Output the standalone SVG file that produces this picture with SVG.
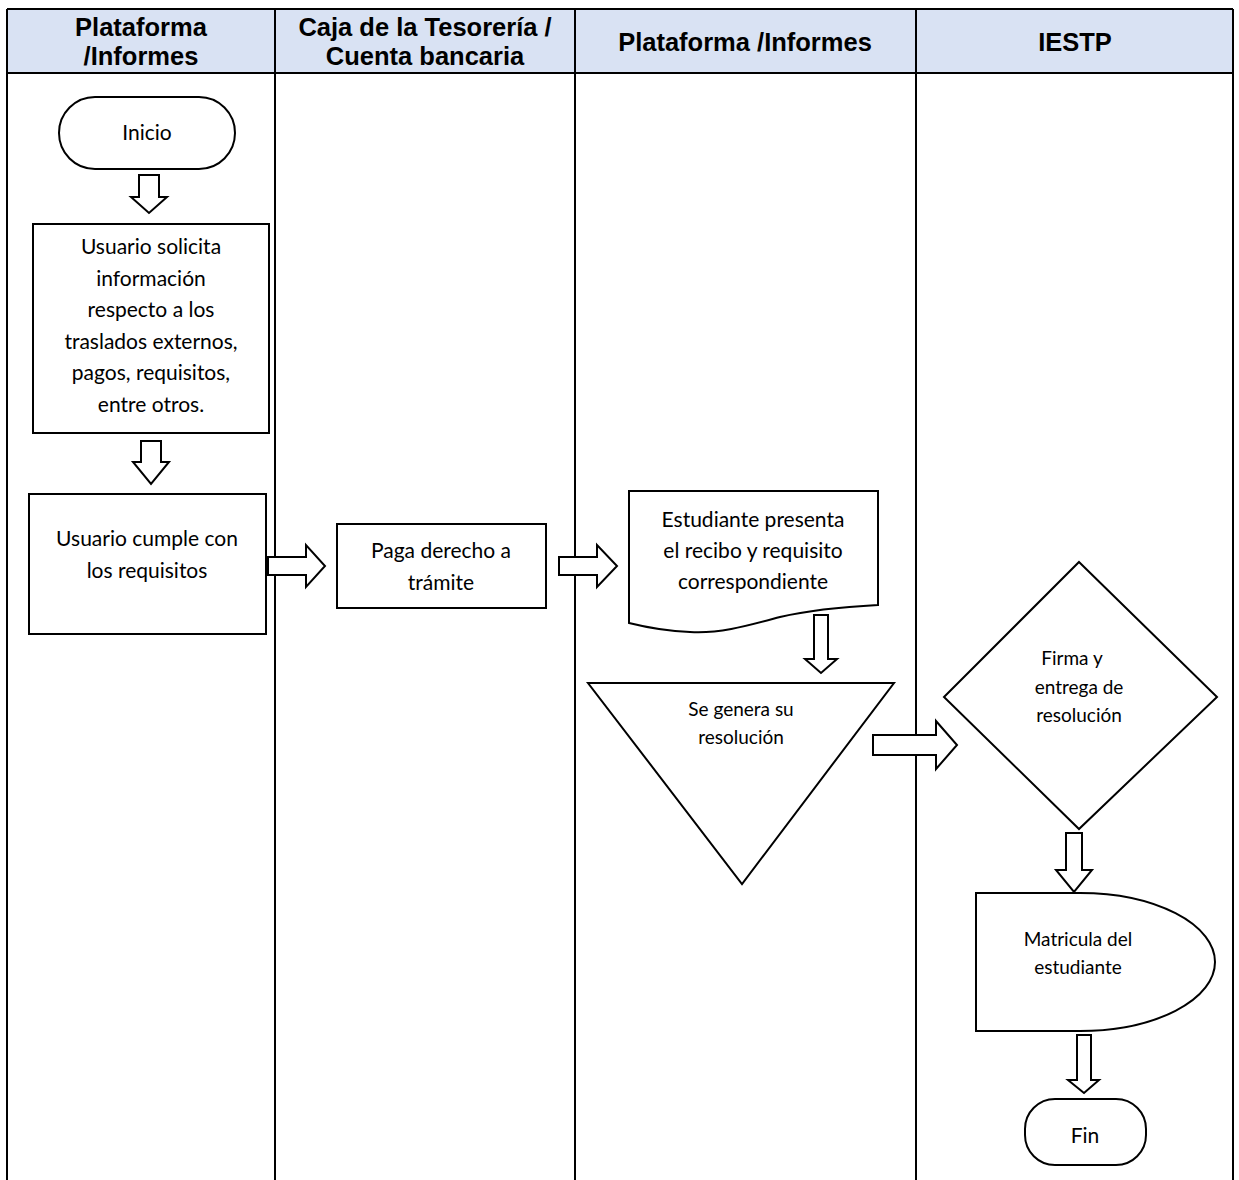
<svg xmlns="http://www.w3.org/2000/svg" width="1239" height="1180" viewBox="0 0 1239 1180">
  <style>
    .lane { stroke: #000; stroke-width: 2; fill: none; }
    .head { fill: #D9E2F3; stroke: none; }
    .hd { font-family: "Liberation Sans", Arial, sans-serif; font-weight: bold; font-size: 25.5px; fill: #000; text-anchor: middle; }
    .shape { fill: #fff; stroke: #000; stroke-width: 2; }
    .arrow { fill: #fff; stroke: #000; stroke-width: 2; stroke-linejoin: miter; }
    .t { font-family: Lato, "Open Sans", sans-serif; font-size: 21px; fill: #000; text-anchor: middle; }
    .ts { font-family: Lato, "Open Sans", sans-serif; font-size: 19px; fill: #000; text-anchor: middle; }
  </style>

  <!-- swimlane frame -->
  <g id="lanes">
    <rect class="head" x="7" y="9" width="1226" height="64"/>
    <line class="lane" x1="7" y1="9" x2="1233" y2="9"/>
    <line class="lane" x1="7" y1="73" x2="1233" y2="73"/>
    <line class="lane" x1="7" y1="9" x2="7" y2="1180"/>
    <line class="lane" x1="275" y1="9" x2="275" y2="1180"/>
    <line class="lane" x1="575" y1="9" x2="575" y2="1180"/>
    <line class="lane" x1="916" y1="9" x2="916" y2="1180"/>
    <line class="lane" x1="1233" y1="9" x2="1233" y2="1180"/>
    <text class="hd" x="141" y="36">Plataforma</text>
    <text class="hd" x="141" y="65">/Informes</text>
    <text class="hd" x="425" y="36">Caja de la Tesorería /</text>
    <text class="hd" x="425" y="65">Cuenta bancaria</text>
    <text class="hd" x="745" y="51">Plataforma /Informes</text>
    <text class="hd" x="1075" y="51">IESTP</text>
  </g>

  <!-- flow arrows -->
  <g id="connectors">
    <polygon class="arrow" points="139,175 159,175 159,197 167,197 149,213 131,197 139,197"/>
    <polygon class="arrow" points="141,441 161,441 161,462 169,462 151,484 133,462 141,462"/>
    <polygon class="arrow" points="268,557 306,557 306,545 325,566 306,587 306,575 268,575"/>
    <polygon class="arrow" points="559,557 597,557 597,545 617,566 597,587 597,575 559,575"/>
    <polygon class="arrow" points="814,615 828,615 828,659 837,659 821,673 805,659 814,659"/>
    <polygon class="arrow" points="873,735 936,735 936,721 957,745 936,769 936,755 873,755"/>
    <polygon class="arrow" points="1066,833 1082,833 1082,870 1092,870 1074,892 1056,870 1066,870"/>
    <polygon class="arrow" points="1077,1035 1091,1035 1091,1080 1099,1080 1084,1093 1068,1080 1077,1080"/>
  </g>

  <g id="inicio">
    <rect class="shape" x="59" y="97" width="176" height="72" rx="36" ry="36"/>
    <text class="t" x="147" y="140">Inicio</text>
  </g>

  <g id="solicita">
    <rect class="shape" x="33" y="224" width="236" height="209"/>
    <text class="t" x="151" y="254">Usuario solicita</text>
    <text class="t" x="151" y="286">información</text>
    <text class="t" x="151" y="317">respecto a los</text>
    <text class="t" x="151" y="349">traslados externos,</text>
    <text class="t" x="151" y="380">pagos, requisitos,</text>
    <text class="t" x="151" y="412">entre otros.</text>
  </g>

  <g id="cumple">
    <rect class="shape" x="29" y="494" width="237" height="140"/>
    <text class="t" x="147" y="546">Usuario cumple con</text>
    <text class="t" x="147" y="578">los requisitos</text>
  </g>

  <g id="paga">
    <rect class="shape" x="337" y="524" width="209" height="84"/>
    <text class="t" x="441" y="558">Paga derecho a</text>
    <text class="t" x="441" y="590">trámite</text>
  </g>

  <g id="presenta">
    <path class="shape" d="M629,491 H878 V605 C840,607 810,610 780,617 C750,625 720,634 690,632 C665,631 645,627 629,623 Z"/>
    <text class="t" x="753" y="527">Estudiante presenta</text>
    <text class="t" x="753" y="558">el recibo y requisito</text>
    <text class="t" x="753" y="589">correspondiente</text>
  </g>

  <g id="genera">
    <polygon class="shape" points="588,683 894,683 742,884"/>
    <text class="ts" x="741" y="716">Se genera su</text>
    <text class="ts" x="741" y="744">resolución</text>
  </g>

  <g id="firma">
    <polygon class="shape" points="1079,562 1217,697 1079,829 944,697"/>
    <text class="ts" x="1072" y="665">Firma y</text>
    <text class="ts" x="1079" y="694">entrega de</text>
    <text class="ts" x="1079" y="722">resolución</text>
  </g>

  <g id="matricula">
    <path class="shape" d="M976,893 H1080 A135,69 0 0 1 1080,1031 H976 Z"/>
    <text class="ts" x="1078" y="946">Matricula del</text>
    <text class="ts" x="1078" y="974">estudiante</text>
  </g>

  <g id="fin">
    <rect class="shape" x="1025" y="1099" width="121" height="66" rx="30" ry="30"/>
    <text class="t" x="1085" y="1143">Fin</text>
  </g>
</svg>
